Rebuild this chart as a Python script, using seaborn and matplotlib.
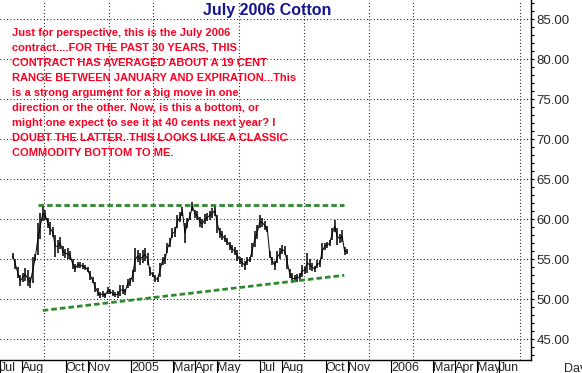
import pandas as pd
import matplotlib
matplotlib.use("Agg")
import matplotlib.pyplot as plt
import matplotlib.dates as mdates
import matplotlib.transforms as mtransforms
from matplotlib.ticker import MultipleLocator, FormatStrFormatter
import seaborn as sns

# price bars (one bar every 3.5 days)
bar_start = "2004-07-19"
bar_step = "84h"
highs = [55.8, 55.0, 54.0, 53.0, 53.3, 53.9, 53.6, 52.8, 55.3, 55.6,
         59.5, 60.8, 61.6, 61.1, 60.2, 59.6, 59.0, 58.0, 57.4, 57.8,
         56.6, 56.3, 56.4, 56.0, 55.0, 54.4, 54.7, 54.6, 54.5, 54.3,
         54.0, 53.5, 52.8, 52.2, 51.4, 50.9, 51.0, 50.8, 51.5, 51.3,
         51.1, 50.9, 51.0, 51.8, 51.8, 51.3, 52.5, 52.7, 53.7, 56.4,
         56.2, 55.8, 56.1, 56.4, 55.8, 54.0, 53.4, 53.0, 52.8, 54.5,
         55.3, 55.6, 57.0, 57.7, 58.9, 59.0, 60.5, 60.9, 61.5, 59.5,
         60.2, 60.9, 62.2, 61.2, 61.0, 60.3, 60.0, 60.6, 60.8, 61.0,
         61.4, 61.8, 60.5, 58.9, 58.5, 58.0, 57.6, 57.2, 56.8, 56.5,
         56.2, 55.3, 55.1, 54.8, 55.3, 55.3, 57.0, 58.5, 59.3, 60.5,
         60.2, 59.8, 59.2, 56.0, 55.3, 54.8, 56.0, 56.4, 56.8, 56.6,
         55.5, 53.8, 53.3, 53.0, 53.2, 53.3, 54.3, 54.0, 55.8, 55.0,
         54.5, 54.2, 54.9, 54.9, 57.0, 57.0, 57.2, 57.4, 58.9, 59.9,
         58.9, 58.2, 58.6, 56.5, 56.3]
lows = [55.0, 53.8, 52.6, 51.6, 52.2, 52.3, 51.6, 51.4, 52.0, 54.8,
        55.5, 57.5, 59.8, 59.9, 58.9, 58.0, 57.8, 55.3, 55.8, 56.3,
        55.4, 55.2, 55.0, 54.9, 53.8, 53.4, 53.9, 53.9, 53.8, 53.7,
        53.4, 52.4, 52.0, 50.9, 50.4, 50.2, 50.3, 50.2, 50.6, 50.6,
        50.4, 50.3, 50.2, 50.4, 50.6, 50.5, 51.4, 51.6, 52.2, 53.4,
        54.6, 54.3, 54.5, 54.8, 54.3, 52.9, 52.8, 52.2, 52.2, 52.8,
        54.3, 54.4, 55.8, 56.5, 57.6, 57.8, 58.9, 59.6, 60.4, 57.0,
        58.9, 59.9, 61.0, 60.2, 59.9, 59.0, 58.9, 59.4, 59.8, 59.9,
        60.1, 60.4, 58.3, 57.6, 57.4, 57.1, 56.8, 56.2, 55.8, 55.5,
        54.8, 54.4, 54.0, 53.7, 54.3, 54.7, 55.3, 56.5, 57.5, 58.9,
        59.0, 58.6, 58.4, 55.2, 54.3, 53.7, 54.5, 55.0, 55.6, 55.5,
        53.8, 52.6, 52.0, 52.1, 52.2, 52.3, 52.8, 53.2, 53.3, 53.6,
        53.5, 53.4, 53.9, 54.0, 55.0, 56.2, 56.4, 56.6, 57.4, 58.4,
        56.8, 57.0, 57.2, 55.5, 55.6]

# green trend lines
resist_dates = ["2004-08-24", "2005-10-27"]
resist_vals = [61.8, 61.8]
support_dates = ["2004-08-30", "2005-10-27"]
support_vals = [48.6, 53.0]

tick_dates = ["2004-07-01", "2004-08-01", "2004-10-01", "2004-11-01", "2005-01-01",
              "2005-03-01", "2005-04-01", "2005-05-01", "2005-07-01", "2005-08-01",
              "2005-10-01", "2005-11-01", "2006-01-01", "2006-03-01", "2006-04-01",
              "2006-05-01", "2006-06-01"]
tick_labels = ["Jul", "Aug", "Oct", "Nov", "2005", "Mar", "Apr", "May", "Jul", "Aug",
               "Oct", "Nov", "2006", "Mar", "Apr", "May", "Jun"]

title = "July 2006 Cotton"
note_lines = [
    "Just for perspective, this is the July 2006",
    "contract....FOR THE PAST 30 YEARS, THIS",
    "CONTRACT HAS AVERAGED ABOUT A 19 CENT",
    "RANGE BETWEEN JANUARY AND EXPIRATION...This",
    "is a strong argument for a big move in one",
    "direction or the other. Now, is this a bottom, or",
    "might one expect to see it at 40 cents next year? I",
    "DOUBT THE LATTER. THIS LOOKS LIKE A CLASSIC",
    "COMMODITY BOTTOM TO ME.",
]

sns.set_style("white")
plt.rcParams['font.family'] = ['Liberation Sans', 'DejaVu Sans']

df = pd.DataFrame({
    "date": pd.date_range(bar_start, periods=len(highs), freq=bar_step),
    "high": highs,
    "low": lows,
})
df["mid"] = (df["high"] + df["low"]) / 2

W, H = 582, 373
fig = plt.figure(figsize=(W / 100, H / 100), dpi=100)
ax = fig.add_axes([0, 13 / H, 531 / W, 360 / H])

ax.vlines(df["date"], df["low"], df["high"], color="black", lw=1.1, zorder=3)
sns.lineplot(data=df, x="date", y="mid", ax=ax, color="black", lw=0.7, zorder=3)

green = "#2b8a2b"
sns.lineplot(x=pd.to_datetime(resist_dates), y=resist_vals, ax=ax, color=green, lw=2.0, zorder=4)
ax.lines[-1].set_linestyle((0, (2.0, 1.1)))
sns.lineplot(x=pd.to_datetime(support_dates), y=support_vals, ax=ax, color=green, lw=2.0, zorder=4)
ax.lines[-1].set_linestyle((0, (2.0, 1.1)))

ax.set_xlim(pd.Timestamp("2004-07-01"), pd.Timestamp("2006-07-16"))
ax.set_ylim(42.41, 87.41)
ax.set_xlabel("")
ax.set_ylabel("")

# grid: every month, every 5 cents
ax.xaxis.set_minor_locator(mdates.MonthLocator())
ax.grid(False)
ax.grid(which="minor", axis="x", color="black", lw=0.8, ls=(0, (0.8, 2.2)), zorder=0)
ax.yaxis.set_major_locator(MultipleLocator(5))
ax.yaxis.set_minor_locator(MultipleLocator(1))
ax.grid(which="major", axis="y", color="black", lw=0.8, ls=(0, (0.8, 2.2)), zorder=0)

ax.set_xticks(pd.to_datetime(tick_dates))
ax.set_xticklabels(tick_labels, ha="left", fontsize=9)
shift = mtransforms.ScaledTranslation(2 / 100, 0, fig.dpi_scale_trans)
for lab in ax.get_xticklabels():
    lab.set_transform(lab.get_transform() + shift)
ax.tick_params(axis="x", which="major", direction="out", length=9.5, width=0.8,
               color="black", pad=-8.2, bottom=True)
ax.tick_params(axis="x", which="minor", length=0)

ax.yaxis.tick_right()
ax.yaxis.set_major_formatter(FormatStrFormatter("%.2f"))
ax.tick_params(axis="y", which="both", direction="out", length=2.5, width=0.8,
               color="black", pad=1.5, labelsize=9.5, right=True, left=False)

for s in ["left", "top"]:
    ax.spines[s].set_visible(False)
for s in ["right", "bottom"]:
    ax.spines[s].set_color("black")
    ax.spines[s].set_linewidth(1.0)

fig.text(267.5 / W, 1 - 15 / H, title, ha="center", va="baseline",
         fontsize=11.5, fontweight="bold", color="#14148c")
for k, line in enumerate(note_lines):
    fig.text(12 / W, 1 - (36 + 15 * k) / H, line, ha="left", va="baseline",
             fontsize=8.0, fontweight="bold", color="#ff0022", zorder=5)
# the reference also shows "Day" clipped at the right edge
fig.text(564 / W, 1 - 372 / H, "Day", ha="left", va="baseline", fontsize=9)

fig.savefig("out.png", dpi=100)
